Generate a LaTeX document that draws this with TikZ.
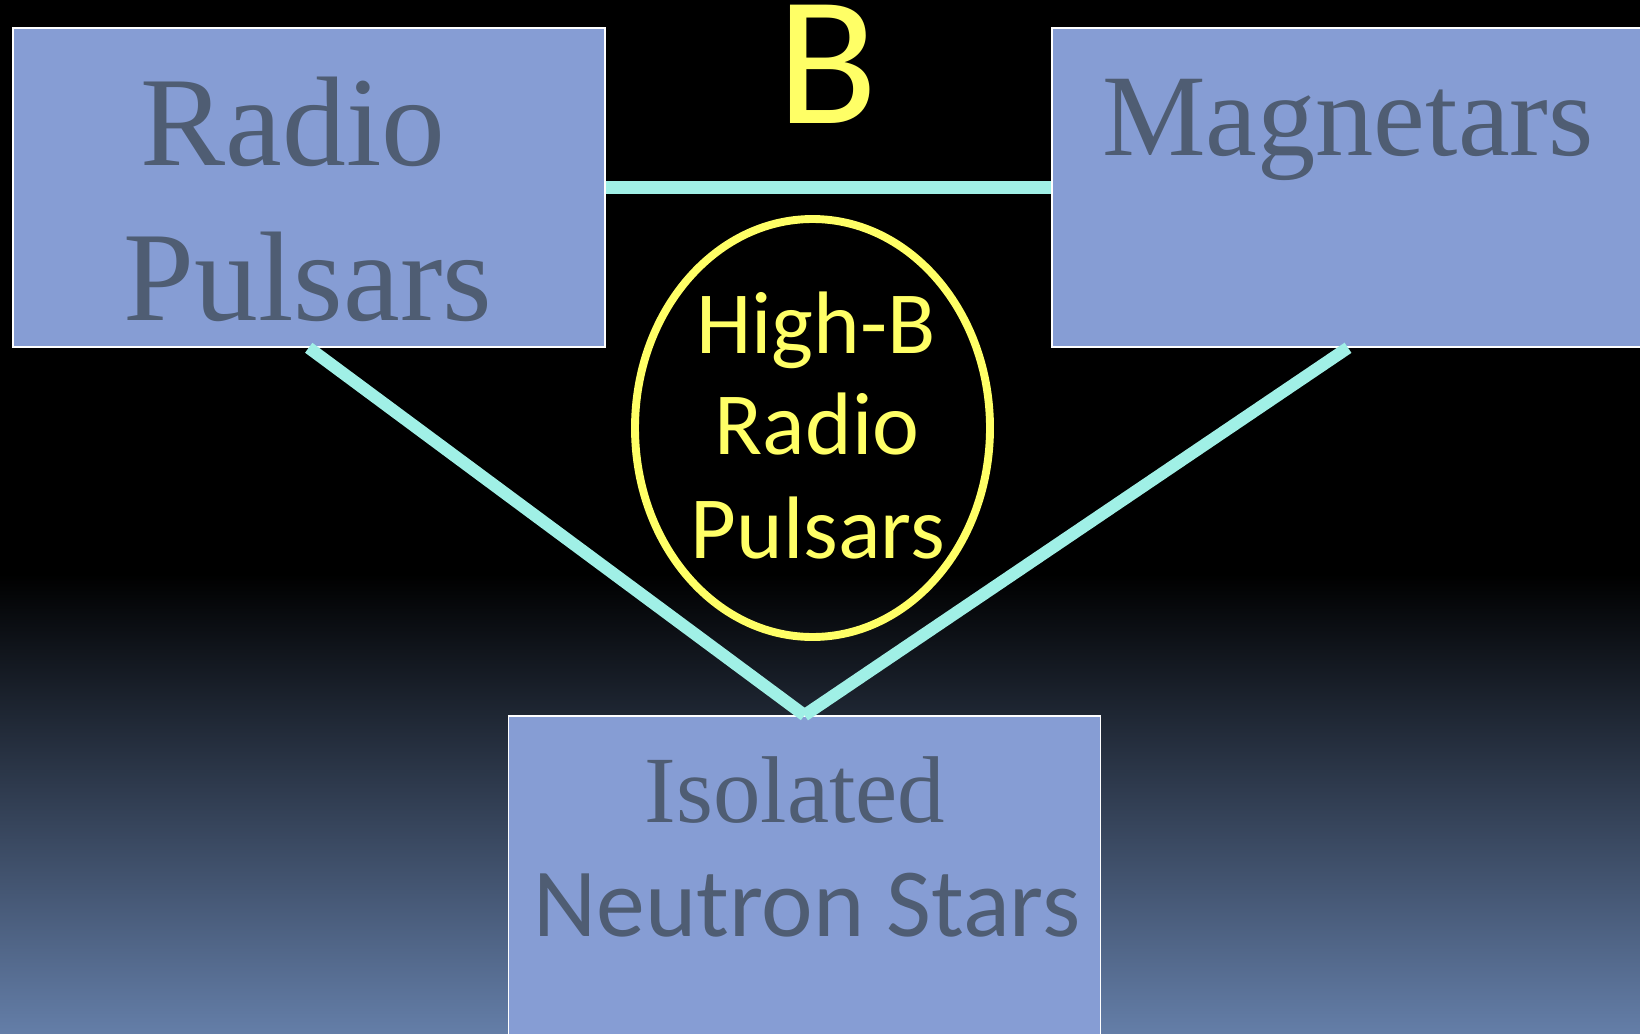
\documentclass[tikz,border=0pt]{standalone}
\usepackage{fontspec}
\setmainfont{Liberation Serif}
\newfontfamily\calib{Carlito}
\usetikzlibrary{shapes.geometric}
\definecolor{boxfill}{RGB}{134,157,212}
\definecolor{boxtext}{RGB}{79,93,115}
\definecolor{cyanline}{RGB}{160,240,230}
\definecolor{hiyellow}{RGB}{255,255,102}
\definecolor{bgblue}{RGB}{100,126,168}
\newcommand{\fsz}[1]{\fontsize{#1}{#1}\selectfont}
\begin{document}
\begin{tikzpicture}[x=0.02cm,y=-0.02cm,
  boxnode/.style={draw=white, line width=0.9pt, fill=boxfill, inner sep=0pt, minimum width=592*0.02cm, minimum height=319*0.02cm},
  serifTxt/.style={text=boxtext, inner sep=0pt, anchor=base},
  sansTxt/.style={text=hiyellow, inner sep=0pt, anchor=base, font=\calib},
  link/.style={draw=cyanline, line width=7pt}]
\useasboundingbox (0,0) rectangle (1640,1034);
\fill[black] (0,0) rectangle (1640,575);
\shade[top color=black, bottom color=bgblue] (0,574) rectangle (1640,1034);
% boxes
\node[boxnode] (rp) at (308.75,187.5) {};
\node[boxnode] (mg) at (1348,187.5) {};
\node[boxnode, minimum height=340*0.02cm] (ins) at (804.5,886) {};
% box texts
\node[serifTxt, font=\fsz{72.6}] (t1) at (293,166) {Radio};
\node[serifTxt, font=\fsz{72.6}] (t2) at (308,320) {Pulsars};
\node[serifTxt, font=\fsz{66.3}] (t3) at (1348,155) {Magnetars};
\node[serifTxt, font=\fsz{54}] (t4) at (795,822) {Isolated};
\node[serifTxt, text=boxtext, font=\calib\fsz{55.6}] (t5) at (807,936) {Neutron Stars};
% connectors
\draw[link] (rp.east) -- (mg.west);
\draw[link] (rp.south) -- (ins.north);
\draw[link] (mg.south) -- (ins.north);
% ellipse
\node[ellipse, draw=hiyellow, line width=4.5pt, minimum width=355*0.02cm, minimum height=418*0.02cm, inner sep=0pt] (hb) at (812.5,428) {};
\node[sansTxt, font=\calib\fsz{50.5}] (h1) at (816,353) {High-B};
\node[sansTxt, font=\calib\fsz{50.5}] (h2) at (817,454) {Radio};
\node[sansTxt, font=\calib\fsz{50.5}] (h3) at (818,558) {Pulsars};
% B label
\node[sansTxt, font=\calib\fsz{105}, text height=116*0.02cm, text depth=0pt] (bl) at (828,124) {B};
\end{tikzpicture}
\end{document}
